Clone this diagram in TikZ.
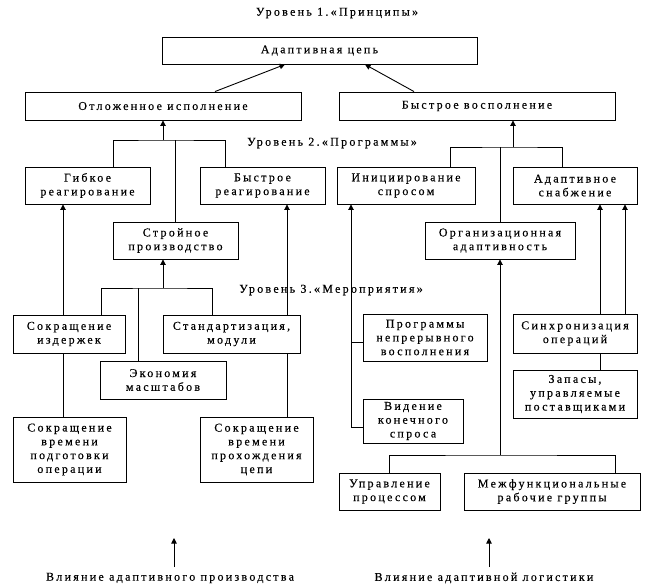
\documentclass[tikz,border=0pt]{standalone}
\usepackage{fontspec}
\setmainfont{Liberation Serif}[LetterSpace=19,FakeBold=0.3]
\usetikzlibrary{arrows.meta}
\begin{document}
\begin{tikzpicture}[x=1pt,y=-1pt,
  txt/.style={font=\fontsize{12}{13.8}\selectfont},
  box/.style={draw, line width=0.9pt, inner sep=0pt, align=center, txt},
  ln/.style={line width=0.9pt},
  arr/.style={ln, -{Triangle[length=5.5pt,width=5.5pt]}},
  lbl/.style={inner sep=0pt, txt}]
\useasboundingbox (0,0) rectangle (651,586);
% vertical line positions
\foreach \v in {63,101,113,138,212,215,225,285,287,351,365,389,414,450,562,600,615,625}
  \coordinate (x\v) at (\v,0);
\coordinate (y342) at (0,342);
\coordinate (y427) at (0,427);
% titles
\node[lbl] (lev1) at (337,13) {Уровень 1.«Принципы»};
\node[lbl] (lev2) at (332,143) {Уровень 2.«Программы»};
\node[lbl] (lev3) at (331,290) {Уровень 3.«Мероприятия»};
% boxes
\node[box, minimum width=315, minimum height=27] (A) at (319.5,50.5) {Адаптивная цепь};
\node[box, minimum width=276, minimum height=28] (B) at (163,106) {Отложенное исполнение};
\node[box, minimum width=276, minimum height=28] (C) at (477,106) {Быстрое восполнение};
\node[box, minimum width=125, minimum height=37] (D) at (87.5,185.5) {Гибкое\\реагирование};
\node[box, minimum width=125, minimum height=37] (E) at (262.5,185.5) {Быстрое\\реагирование};
\node[box, minimum width=138, minimum height=37] (F) at (406,185.5) {Инициирование\\спросом};
\node[box, minimum width=124, minimum height=37] (G) at (575,185.5) {Адаптивное\\снабжение};
\node[box, minimum width=125, minimum height=37] (H) at (175.5,240.5) {Стройное\\производство};
\node[box, minimum width=150, minimum height=37] (I) at (500,240.5) {Организационная\\адаптивность};
\node[box, minimum width=112, minimum height=38] (J) at (69,334) {Сокращение\\издержек};
\node[box, minimum width=137, minimum height=38] (K) at (231.5,334) {Стандартизация,\\модули};
\node[box, minimum width=126, minimum height=38] (L) at (163,380) {Экономия\\масштабов};
\node[box, minimum width=113, minimum height=65] (M) at (69.5,449.5) {Сокращение\\времени\\подготовки\\операции};
\node[box, minimum width=113, minimum height=65] (N) at (256.5,449.5) {Сокращение\\времени\\прохождения\\цепи};
\node[box, minimum width=124, minimum height=47] (O) at (425,337.5) {Программы\\непрерывного\\восполнения};
\node[box, minimum width=100, minimum height=44] (P) at (413,421) {Видение\\конечного\\спроса};
\node[box, minimum width=124, minimum height=39] (Q) at (575,333.5) {Синхронизация\\операций};
\node[box, minimum width=124, minimum height=48] (R) at (575,394) {Запасы,\\управляемые\\поставщиками};
\node[box, minimum width=101, minimum height=37] (S) at (389.5,491.5) {Управление\\процессом};
\node[box, minimum width=176, minimum height=37] (T) at (552,491.5) {Межфункциональные\\рабочие группы};
\node[lbl] (V1) at (170,578) {Влияние адаптивного производства};
\node[lbl] (V2) at (484,578) {Влияние адаптивной логистики};
% level 1 arrows
\draw[arr] (B.north -| x215) -- (A.south -| x285);
\draw[arr] (C.north -| x414) -- (A.south -| x365);
% left bracket level 2
\coordinate (b1) at (163,140);
\draw[ln] (D.north -| x113) |- (b1) -| (E.north -| x225);
\draw[ln] (H.north) -- (H.north |- b1);
\draw[arr] (b1) -- (B.south -| b1);
% right bracket level 2
\coordinate (b2) at (513,147);
\draw[ln] (F.north -| x450) |- (b2) -| (G.north -| x562);
\draw[ln] (I.north) -- (I.north |- b2);
\draw[arr] (b2) -- (C.south -| b2);
% level 3 left
\draw[arr] (J.north -| x63) -- (D.south -| x63);
\draw[ln] (M.north -| x63) -- (J.south -| x63);
\draw[arr] (K.north -| x287) -- (E.south -| x287);
\draw[ln] (N.north -| x287) -- (K.south -| x287);
\coordinate (b3) at (163,288);
\draw[ln] (J.north -| x101) |- (b3) -| (K.north -| x212);
\draw[ln] (L.north -| x138) -- (x138 |- b3);
\draw[arr] (b3) -- (H.south -| b3);
% level 3 right
\draw[arr] (P.west |- y427) -| (F.south -| x351);
\draw[ln] (O.west |- y342) -- (x351 |- y342);
\coordinate (b5) at (500,455);
\draw[ln] (S.north -| x389) |- (b5) -| (T.north -| x615);
\draw[arr] (b5) -- (I.south);
\draw[arr] (Q.north -| x600) -- (G.south -| x600);
\draw[arr] (Q.north -| x625) -- (G.south -| x625);
\draw[ln] (R.north -| x600) -- (Q.south -| x600);
% bottom arrows
\coordinate (v1s) at (174,567);
\coordinate (v1e) at (174,538);
\coordinate (v2s) at (489,567);
\coordinate (v2e) at (489,538);
\draw[arr] (v1s) -- (v1e);
\draw[arr] (v2s) -- (v2e);
\end{tikzpicture}
\end{document}
